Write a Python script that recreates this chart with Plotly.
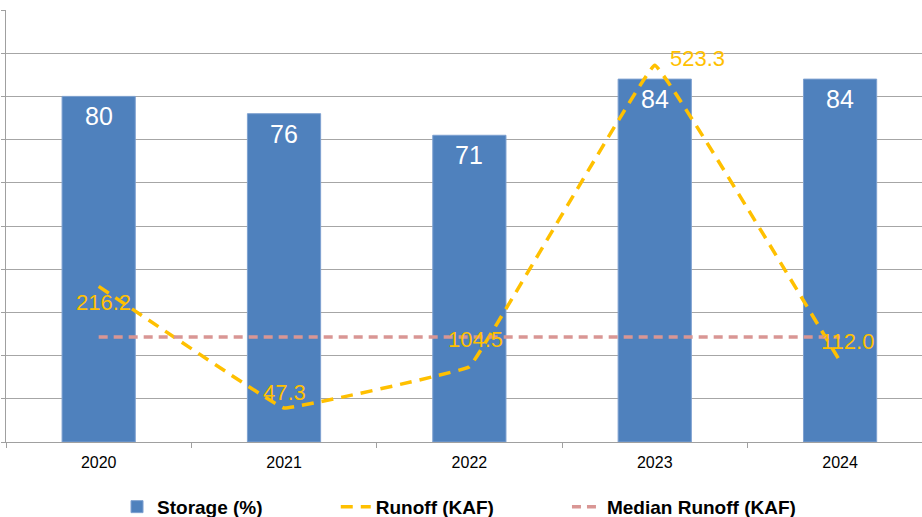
import plotly.graph_objects as go

years = ["2020", "2021", "2022", "2023", "2024"]
storage_pct = [80, 76, 71, 84, 84]
runoff_kaf = [216.2, 47.3, 104.5, 523.3, 112.0]
median_runoff_kaf = [146, 146, 146, 146, 146]

# label offsets (pixels) for runoff data labels
label_dx = [5, 0, 6, 43, 7]
label_dy = [-16, 15, 27, 7, 20]

BLUE = "#4F81BD"
GOLD = "#FFC000"
PINK = "#D99694"
FONT = "Liberation Sans, Arial, sans-serif"

fig = go.Figure()

fig.add_trace(go.Bar(
    x=years, y=storage_pct, name="Storage (%)",
    marker=dict(color=BLUE, line=dict(color="#7EA1D0", width=1)),
    width=0.395, legend="legend",
))

fig.add_trace(go.Scatter(
    x=years, y=runoff_kaf, name="Runoff (KAF)", yaxis="y2",
    mode="lines", legend="legend2",
    line=dict(color=GOLD, width=3.5, dash="12px,8px", shape="spline", smoothing=0.12),
))

fig.add_trace(go.Scatter(
    x=years, y=median_runoff_kaf, name="Median Runoff (KAF)", yaxis="y2",
    mode="lines", legend="legend3",
    line=dict(color=PINK, width=3.5, dash="9px,6px"),
))

for i, v in enumerate(storage_pct):
    fig.add_annotation(
        x=i, y=v, xref="x", yref="y", text=str(v),
        showarrow=False, yshift=-20,
        font=dict(color="white", size=25, family=FONT),
    )

for i, (v, dx, dy) in enumerate(zip(runoff_kaf, label_dx, label_dy)):
    fig.add_annotation(
        x=i, y=v, xref="x", yref="y2", text=f"{v:.1f}",
        showarrow=False, xshift=dx, yshift=dy,
        font=dict(color=GOLD, size=22, family=FONT),
    )

legend_font = dict(size=19, family=FONT, color="black", weight="bold")
common_legend = dict(orientation="h", xanchor="left", y=-0.15, yanchor="middle",
                     font=legend_font, bgcolor="rgba(0,0,0,0)")

fig.update_layout(
    width=922, height=517,
    margin=dict(l=6, r=0, t=10, b=75, autoexpand=False),
    paper_bgcolor="white", plot_bgcolor="white",
    font=dict(family=FONT, color="black"),
    showlegend=True,
    legend=dict(x=0.1212, **common_legend),
    legend2=dict(x=0.360, **common_legend),
    legend3=dict(x=0.6124, **common_legend),
    xaxis=dict(
        type="category", range=[-0.5, 4.442],
        showline=True, linecolor="#A0A0A0", linewidth=1,
        ticks="outside", ticklen=5, tickcolor="#A0A0A0", tickson="boundaries",
        tickfont=dict(size=16, family=FONT, color="black"),
        ticklabelstandoff=6,
        showgrid=False,
    ),
    yaxis=dict(
        range=[0, 100], dtick=10,
        showticklabels=False,
        showgrid=True, gridcolor="#A6A6A6", gridwidth=1,
        showline=True, linecolor="#A0A0A0", linewidth=1,
        ticks="outside", ticklen=4, tickcolor="#A0A0A0",
        zeroline=False,
    ),
    yaxis2=dict(
        range=[0, 600], overlaying="y", side="right",
        showticklabels=False, showgrid=False, showline=False,
        zeroline=False, ticks="",
    ),
    bargap=0.6,
)

fig.write_html("out.html")
